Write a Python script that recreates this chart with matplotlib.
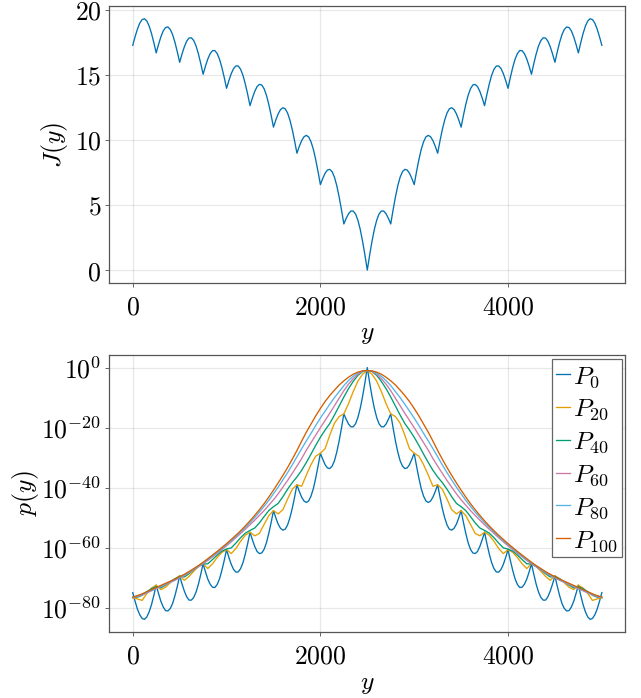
import numpy as np
import matplotlib.pyplot as plt

plt.rcParams['mathtext.fontset'] = 'cm'
plt.rcParams['font.family'] = ['DejaVu Serif']

# J(y), read every 25 units of y from 0 to 5000
j_vals = [
    17.25, 17.91, 18.50, 18.96, 19.23, 19.29, 19.12, 18.73, 18.16, 17.45,
    16.67, 17.32, 17.91, 18.36, 18.62, 18.66, 18.47, 18.07, 17.48, 16.75,
    15.95, 16.58, 17.14, 17.57, 17.81, 17.83, 17.62, 17.20, 16.59, 15.85,
    15.03, 15.65, 16.20, 16.61, 16.84, 16.85, 16.62, 16.18, 15.55, 14.79,
    13.95, 14.55, 15.08, 15.47, 15.67, 15.66, 15.41, 14.94, 14.28, 13.49,
    12.62, 13.20, 13.71, 14.08, 14.25, 14.21, 13.92, 13.42, 12.72, 11.88,
    10.97, 11.52, 11.99, 12.32, 12.46, 12.38, 12.06, 11.52, 10.79, 9.92,
    8.97, 9.49, 9.93, 10.23, 10.34, 10.22, 9.85, 9.27, 8.48, 7.56,
    6.56, 7.03, 7.43, 7.68, 7.73, 7.55, 7.13, 6.47, 5.61, 4.62,
    3.54, 3.97, 4.32, 4.53, 4.53, 4.30, 3.82, 3.11, 2.20, 1.14,
    0.00,
    1.14, 2.20, 3.11, 3.82, 4.30, 4.53, 4.53, 4.32, 3.97, 3.54,
    4.62, 5.61, 6.47, 7.13, 7.55, 7.73, 7.68, 7.43, 7.03, 6.56,
    7.56, 8.48, 9.27, 9.85, 10.22, 10.34, 10.23, 9.93, 9.49, 8.97,
    9.92, 10.79, 11.52, 12.06, 12.38, 12.46, 12.32, 11.99, 11.52, 10.97,
    11.88, 12.72, 13.42, 13.92, 14.21, 14.25, 14.08, 13.71, 13.20, 12.62,
    13.49, 14.28, 14.94, 15.41, 15.66, 15.67, 15.47, 15.08, 14.55, 13.95,
    14.79, 15.55, 16.18, 16.62, 16.85, 16.84, 16.61, 16.20, 15.65, 15.03,
    15.85, 16.59, 17.20, 17.62, 17.83, 17.81, 17.57, 17.14, 16.58, 15.95,
    16.75, 17.48, 18.07, 18.47, 18.66, 18.62, 18.36, 17.91, 17.32, 16.67,
    17.45, 18.16, 18.73, 19.12, 19.29, 19.23, 18.96, 18.50, 17.91, 17.25,
]

# log10 p(y) for P_0, same y points as j_vals
p0_log = [
    -74.9, -77.8, -80.4, -82.3, -83.5, -83.8, -83.0, -81.3, -78.9, -75.8,
    -72.4, -75.2, -77.8, -79.7, -80.9, -81.0, -80.2, -78.5, -75.9, -72.8,
    -69.3, -72.0, -74.4, -76.3, -77.4, -77.4, -76.5, -74.7, -72.1, -68.8,
    -65.3, -68.0, -70.4, -72.1, -73.1, -73.2, -72.2, -70.3, -67.5, -64.2,
    -60.6, -63.2, -65.5, -67.2, -68.1, -68.0, -66.9, -64.9, -62.0, -58.6,
    -54.8, -57.3, -59.5, -61.2, -61.9, -61.7, -60.5, -58.3, -55.2, -51.6,
    -47.6, -50.0, -52.1, -53.5, -54.1, -53.8, -52.4, -50.0, -46.9, -43.1,
    -39.0, -41.2, -43.1, -44.4, -44.9, -44.4, -42.8, -40.3, -36.8, -32.8,
    -28.5, -30.5, -32.3, -33.4, -33.6, -32.8, -31.0, -28.1, -24.4, -20.1,
    -15.4, -17.2, -18.8, -19.7, -19.7, -18.7, -16.6, -13.5, -9.6, -5.0,
    0.0,
    -5.0, -9.6, -13.5, -16.6, -18.7, -19.7, -19.7, -18.8, -17.2, -15.4,
    -20.1, -24.4, -28.1, -31.0, -32.8, -33.6, -33.4, -32.3, -30.5, -28.5,
    -32.8, -36.8, -40.3, -42.8, -44.4, -44.9, -44.4, -43.1, -41.2, -39.0,
    -43.1, -46.9, -50.0, -52.4, -53.8, -54.1, -53.5, -52.1, -50.0, -47.6,
    -51.6, -55.2, -58.3, -60.5, -61.7, -61.9, -61.2, -59.5, -57.3, -54.8,
    -58.6, -62.0, -64.9, -66.9, -68.0, -68.1, -67.2, -65.5, -63.2, -60.6,
    -64.2, -67.5, -70.3, -72.2, -73.2, -73.1, -72.1, -70.4, -68.0, -65.3,
    -68.8, -72.1, -74.7, -76.5, -77.4, -77.4, -76.3, -74.4, -72.0, -69.3,
    -72.8, -75.9, -78.5, -80.2, -81.0, -80.9, -79.7, -77.8, -75.2, -72.4,
    -75.8, -78.9, -81.3, -83.0, -83.8, -83.5, -82.3, -80.4, -77.8, -74.9,
]

# log10 p(y) for the later series, read every 50 units of y from 0 to 5000
p20_log = [
    -76.6, -77.0, -77.5, -75.2, -73.4, -72.4, -73.9, -73.1, -71.6, -70.3,
    -69.3, -70.8, -69.5, -67.8, -66.2, -65.3, -66.9, -65.3, -63.2, -61.5,
    -60.6, -61.9, -60.2, -57.8, -55.8, -54.8, -56.0, -55.2, -52.2, -49.3,
    -47.6, -48.7, -47.3, -43.8, -40.5, -39.0, -39.5, -35.8, -32.3, -29.5,
    -28.5, -27.0, -22.5, -18.5, -16.3, -15.4, -12.0, -8.0, -4.5, -2.2,
    -1.0,
    -2.2, -4.5, -8.0, -12.0, -15.4, -16.3, -18.5, -22.5, -27.0, -28.5,
    -29.5, -32.3, -35.8, -39.5, -39.0, -40.5, -43.8, -47.3, -48.7, -47.6,
    -49.3, -52.2, -55.2, -56.0, -54.8, -55.8, -57.8, -60.2, -61.9, -60.6,
    -61.5, -63.2, -65.3, -66.9, -65.3, -66.2, -67.8, -69.5, -70.8, -69.3,
    -70.3, -71.6, -73.1, -73.9, -72.4, -73.4, -75.2, -77.5, -77.0, -76.6,
]
p40_log = [
    -76.5, -76.4, -75.8, -74.6, -73.6, -72.9, -73.3, -72.4, -71.3, -70.3,
    -69.5, -69.7, -68.6, -67.3, -66.2, -65.4, -65.3, -63.9, -62.4, -61.1,
    -60.4, -60.0, -58.4, -56.6, -55.1, -54.2, -53.4, -51.7, -49.6, -47.6,
    -46.3, -45.2, -43.0, -40.5, -38.3, -36.4, -34.2, -31.6, -28.8, -25.9,
    -23.2, -20.8, -18.6, -15.8, -12.8, -9.8, -7.0, -4.6, -2.6, -1.3,
    -1.0,
    -1.3, -2.6, -4.6, -7.0, -9.8, -12.8, -15.8, -18.6, -20.8, -23.2,
    -25.9, -28.8, -31.6, -34.2, -36.4, -38.3, -40.5, -43.0, -45.2, -46.3,
    -47.6, -49.6, -51.7, -53.4, -54.2, -55.1, -56.6, -58.4, -60.0, -60.4,
    -61.1, -62.4, -63.9, -65.3, -65.4, -66.2, -67.3, -68.6, -69.7, -69.5,
    -70.3, -71.3, -72.4, -73.3, -72.9, -73.6, -74.6, -75.8, -76.4, -76.5,
]
p60_log = [
    -76.6, -76.2, -75.7, -75.0, -74.3, -73.6, -72.9, -72.2, -71.5, -70.8,
    -70.0, -69.2, -68.3, -67.3, -66.3, -65.3, -64.2, -63.0, -61.8, -60.6,
    -59.3, -58.0, -56.6, -55.2, -53.8, -52.3, -50.8, -49.2, -47.6, -45.8,
    -44.0, -42.0, -39.8, -37.6, -35.2, -32.8, -30.3, -27.5, -25.0, -22.5,
    -20.0, -17.6, -15.2, -12.7, -10.2, -7.7, -5.5, -3.7, -2.2, -1.2,
    -1.0,
    -1.2, -2.2, -3.7, -5.5, -7.7, -10.2, -12.7, -15.2, -17.6, -20.0,
    -22.5, -25.0, -27.5, -30.3, -32.8, -35.2, -37.6, -39.8, -42.0, -44.0,
    -45.8, -47.6, -49.2, -50.8, -52.3, -53.8, -55.2, -56.6, -58.0, -59.3,
    -60.6, -61.8, -63.0, -64.2, -65.3, -66.3, -67.3, -68.3, -69.2, -70.0,
    -70.8, -71.5, -72.2, -72.9, -73.6, -74.3, -75.0, -75.7, -76.2, -76.6,
]
p80_log = [
    -76.5, -76.0, -75.5, -74.8, -74.1, -73.4, -72.7, -72.0, -71.3, -70.6,
    -69.8, -69.0, -68.1, -67.1, -66.1, -65.0, -63.9, -62.7, -61.5, -60.2,
    -58.9, -57.6, -56.2, -54.7, -53.2, -51.6, -49.9, -48.1, -46.2, -44.2,
    -42.0, -39.8, -37.4, -35.0, -32.4, -29.7, -27.0, -24.4, -21.9, -19.3,
    -16.8, -14.5, -12.2, -10.0, -8.0, -6.0, -4.3, -2.9, -1.8, -1.1,
    -1.0,
    -1.1, -1.8, -2.9, -4.3, -6.0, -8.0, -10.0, -12.2, -14.5, -16.8,
    -19.3, -21.9, -24.4, -27.0, -29.7, -32.4, -35.0, -37.4, -39.8, -42.0,
    -44.2, -46.2, -48.1, -49.9, -51.6, -53.2, -54.7, -56.2, -57.6, -58.9,
    -60.2, -61.5, -62.7, -63.9, -65.0, -66.1, -67.1, -68.1, -69.0, -69.8,
    -70.6, -71.3, -72.0, -72.7, -73.4, -74.1, -74.8, -75.5, -76.0, -76.5,
]
p100_log = [
    -76.4, -75.9, -75.3, -74.6, -73.9, -73.2, -72.5, -71.8, -71.1, -70.4,
    -69.6, -68.8, -67.9, -66.9, -65.9, -64.8, -63.6, -62.4, -61.2, -59.9,
    -58.6, -57.2, -55.8, -54.3, -52.7, -51.0, -49.2, -47.3, -45.3, -43.1,
    -40.8, -38.4, -35.9, -33.3, -30.5, -27.6, -24.5, -21.5, -18.8, -16.1,
    -13.6, -11.3, -9.3, -7.5, -5.8, -4.4, -3.2, -2.2, -1.5, -1.1,
    -1.0,
    -1.1, -1.5, -2.2, -3.2, -4.4, -5.8, -7.5, -9.3, -11.3, -13.6,
    -16.1, -18.8, -21.5, -24.5, -27.6, -30.5, -33.3, -35.9, -38.4, -40.8,
    -43.1, -45.3, -47.3, -49.2, -51.0, -52.7, -54.3, -55.8, -57.2, -58.6,
    -59.9, -61.2, -62.4, -63.6, -64.8, -65.9, -66.9, -67.9, -68.8, -69.6,
    -70.4, -71.1, -71.8, -72.5, -73.2, -73.9, -74.6, -75.3, -75.9, -76.4,
]

series_labels = [r"$P_{0}$", r"$P_{20}$", r"$P_{40}$", r"$P_{60}$", r"$P_{80}$", r"$P_{100}$"]
x_ticks = [0, 2000, 4000]
j_ticks = [0, 5, 10, 15, 20]
p_tick_exp = [0, -20, -40, -60, -80]

colors = ["#0072B2", "#E69F00", "#009E73", "#CC79A7", "#56B4E9", "#D55E00"]
fs = 18.5
lw = 0.95

y_fine = np.linspace(0, 5000, len(j_vals))
y_coarse = np.linspace(0, 5000, len(p20_log))


def style(ax):
    for s in ax.spines.values():
        s.set_color("#555555")
        s.set_linewidth(0.9)
    ax.grid(True, color="black", alpha=0.09, lw=0.9)
    ax.set_axisbelow(True)
    ax.tick_params(direction="out", length=3.2, width=0.7, color="#666666",
                   labelsize=fs, pad=2.5)
    ax.tick_params(axis="x", pad=5)
    ax.set_xlim(-250, 5250)
    ax.set_xticks(x_ticks, [f"${v}$" for v in x_ticks])


def place_ylabel(ax, text, x):
    # right edge of the rotated label sits at axes x
    ax.set_ylabel(text, fontsize=fs)
    ax.yaxis.label.set(rotation_mode="default", ha="right", va="center")
    ax.yaxis.set_label_coords(x, 0.5)


fig = plt.figure(figsize=(6.41, 6.98), dpi=100)
ax1 = fig.add_axes([0.1705, 0.595, 0.805, 0.3964])
ax2 = fig.add_axes([0.1705, 0.0946, 0.805, 0.3968])

# top panel
style(ax1)
ax1.plot(y_fine, j_vals, color=colors[0], lw=lw)
ax1.set_ylim(-0.97, 20.27)
ax1.set_yticks(j_ticks, [f"${v}$" for v in j_ticks])
place_ylabel(ax1, r"$J(y)$", -0.076)
ax1.set_xlabel(r"$y$", fontsize=fs)
ax1.xaxis.set_label_coords(0.5, -0.138)

# bottom panel
style(ax2)
ax2.set_yscale("log")
curves = [(y_fine, p0_log), (y_coarse, p20_log), (y_coarse, p40_log),
          (y_coarse, p60_log), (y_coarse, p80_log), (y_coarse, p100_log)]
for (xs, lp), c, lab in zip(curves, colors, series_labels):
    ax2.plot(xs, 10.0 ** np.array(lp), color=c, lw=lw, label=lab)
ax2.set_ylim(10.0 ** -88.0, 10.0 ** 4.19)
ax2.set_yticks([10.0 ** e for e in p_tick_exp], [f"$10^{{{e}}}$" for e in p_tick_exp])
ax2.minorticks_off()
place_ylabel(ax2, r"$p(y)$", -0.133)
ax2.set_xlabel(r"$y$", fontsize=fs)
ax2.xaxis.set_label_coords(0.5, -0.14)

leg = ax2.legend(loc="upper right", bbox_to_anchor=(0.993, 0.984), borderaxespad=0,
                 fontsize=fs, handlelength=0.55, handletextpad=0.12, borderpad=0.15,
                 labelspacing=0.25, fancybox=False, edgecolor="#666666", framealpha=1)
leg.get_frame().set_linewidth(0.9)

fig.savefig("out.png", dpi=100)
